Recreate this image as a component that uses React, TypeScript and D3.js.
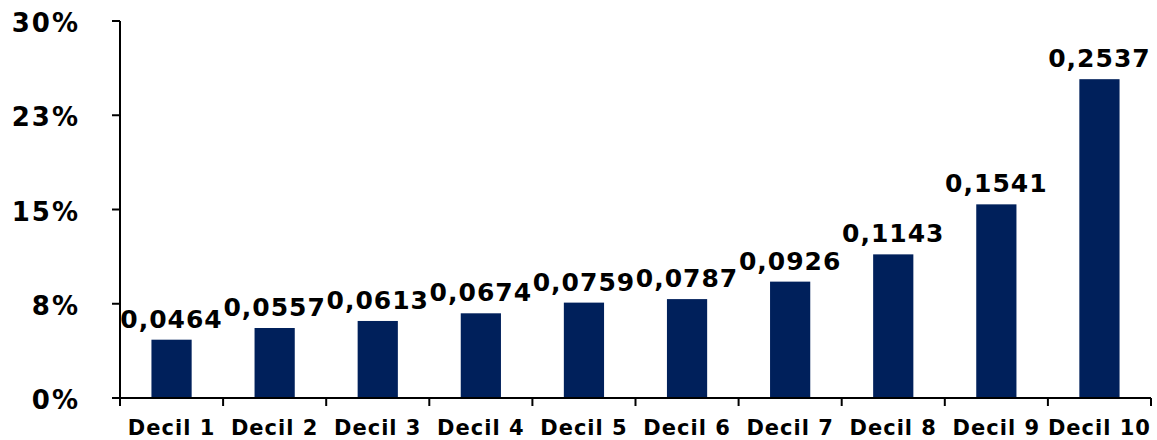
import React, { useRef, useEffect } from 'react';
import * as d3 from 'd3';

const categories = ['Decil 1', 'Decil 2', 'Decil 3', 'Decil 4', 'Decil 5', 'Decil 6', 'Decil 7', 'Decil 8', 'Decil 9', 'Decil 10'];
const values = [0.0464, 0.0557, 0.0613, 0.0674, 0.0759, 0.0787, 0.0926, 0.1143, 0.1541, 0.2537];
const yTicks = [0, 0.075, 0.15, 0.225, 0.3];
const yTickLabels = ['0%', '8%', '15%', '23%', '30%'];

const WIDTH = 1157;
const HEIGHT = 440;
const FONT = 'Verdana, "DejaVu Sans", sans-serif';

const App: React.FC = () => {
  const svgRef = useRef<SVGSVGElement | null>(null);

  useEffect(() => {
    if (!svgRef.current) return;
    const svg = d3.select(svgRef.current);
    svg.selectAll('*').remove();

    const left = 120;
    const right = 1151;
    const top = 21;
    const bottom = 398;

    const xScale = d3.scaleBand<string>()
      .domain(categories)
      .range([left, right])
      .paddingInner(0.61)
      .paddingOuter(0.305);

    const yScale = d3.scaleLinear()
      .domain([0, 0.3])
      .range([bottom, top]);

    const band = (right - left) / categories.length;

    // bars
    svg.append('g')
      .selectAll('rect')
      .data(values)
      .enter()
      .append('rect')
      .attr('x', (_d, i) => xScale(categories[i]) || 0)
      .attr('y', d => yScale(d))
      .attr('width', xScale.bandwidth())
      .attr('height', d => bottom - yScale(d))
      .attr('fill', '#00205B');

    // value labels
    svg.append('g')
      .selectAll('text')
      .data(values)
      .enter()
      .append('text')
      .attr('x', (_d, i) => (xScale(categories[i]) || 0) + xScale.bandwidth() / 2)
      .attr('y', d => yScale(d) - 12)
      .attr('text-anchor', 'middle')
      .style('font-family', FONT)
      .style('font-weight', 'bold')
      .style('font-size', '25px')
      .style('letter-spacing', '1px')
      .style('fill', '#000')
      .text(d => d.toFixed(4).replace('.', ','));

    // y axis
    const yAxis = svg.append('g');
    yAxis.append('line')
      .attr('x1', left).attr('x2', left)
      .attr('y1', top).attr('y2', bottom)
      .attr('stroke', '#000').attr('stroke-width', 2);
    yAxis.selectAll('line.tick')
      .data(yTicks)
      .enter()
      .append('line')
      .attr('class', 'tick')
      .attr('x1', left - 8).attr('x2', left)
      .attr('y1', d => yScale(d)).attr('y2', d => yScale(d))
      .attr('stroke', '#000').attr('stroke-width', 2);
    yAxis.selectAll('text')
      .data(yTicks)
      .enter()
      .append('text')
      .attr('x', 80)
      .attr('y', d => yScale(d) + 11)
      .attr('text-anchor', 'end')
      .style('font-family', FONT)
      .style('font-weight', 'bold')
      .style('font-size', '26px')
      .style('letter-spacing', '2px')
      .text((_d, i) => yTickLabels[i]);

    // x axis
    const xAxis = svg.append('g');
    xAxis.append('line')
      .attr('x1', left - 8).attr('x2', right)
      .attr('y1', bottom).attr('y2', bottom)
      .attr('stroke', '#000').attr('stroke-width', 2);
    const boundaries = d3.range(categories.length + 1).map(i => left + i * band);
    xAxis.selectAll('line.tick')
      .data(boundaries)
      .enter()
      .append('line')
      .attr('class', 'tick')
      .attr('x1', d => d).attr('x2', d => d)
      .attr('y1', bottom).attr('y2', bottom + 8)
      .attr('stroke', '#000').attr('stroke-width', 2);
    xAxis.selectAll('text')
      .data(categories)
      .enter()
      .append('text')
      .attr('x', d => (xScale(d) || 0) + xScale.bandwidth() / 2)
      .attr('y', 435)
      .attr('text-anchor', 'middle')
      .style('font-family', FONT)
      .style('font-weight', 'bold')
      .style('font-size', '21px')
      .style('letter-spacing', '1px')
      .text(d => d);
  }, []);

  return (
    <svg
      ref={svgRef}
      width={WIDTH}
      height={HEIGHT}
      style={{ position: 'absolute', left: 0, top: 0, background: '#fff' }}
    />
  );
};

export default App;
